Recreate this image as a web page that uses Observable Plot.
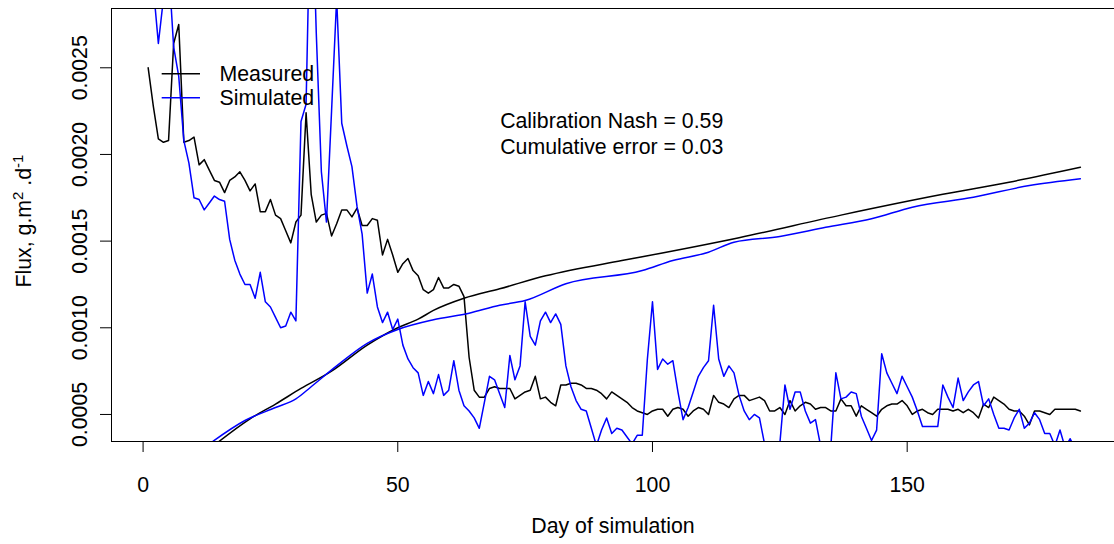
<!DOCTYPE html>
<html><head><meta charset="utf-8">
<script src="https://cdn.jsdelivr.net/npm/d3@7"></script>
<script src="https://cdn.jsdelivr.net/npm/@observablehq/plot@0.6"></script>
<style>body{margin:0;background:#fff} svg{display:block}</style>
</head><body><div id="chart"></div>
<script>
// ---------- data ----------
const measured = [0.00250,0.00228,0.00209,0.00207,0.00208,0.00264,0.00275,0.00207,0.00208,0.00210,
0.00194,0.00197,0.00191,0.00185,0.00184,0.00178,0.00185,0.00187,0.00190,0.00185,
0.00179,0.00183,0.00167,0.00167,0.00174,0.00165,0.00163,0.00156,0.00149,0.00161,
0.00165,0.00224,0.00177,0.00161,0.00165,0.00166,0.00153,0.00160,0.00168,0.00168,
0.00164,0.00169,0.00159,0.00159,0.00163,0.00162,0.00142,0.00151,0.00142,0.00132,
0.00137,0.00140,0.00133,0.00130,0.00122,0.00120,0.00122,0.00129,0.00123,0.00123,
0.00125,0.00124,0.00118,0.00083,0.00064,0.00060,0.00060,0.00065,0.00066,0.00065,
0.00065,0.00065,0.00059,0.00061,0.00063,0.00064,0.00072,0.00059,0.00060,0.00057,
0.00055,0.00067,0.00067,0.00068,0.00068,0.00067,0.00065,0.00065,0.00064,0.00062,
0.00059,0.00063,0.00061,0.00059,0.00057,0.00054,0.00052,0.00051,0.00050,0.00052,
0.00053,0.00053,0.00049,0.00053,0.00054,0.00053,0.00049,0.00052,0.00054,0.00053,
0.00050,0.00061,0.00057,0.00056,0.00054,0.00059,0.00061,0.00061,0.00058,0.00059,
0.00060,0.00058,0.00052,0.00052,0.00054,0.00050,0.00058,0.00052,0.00055,0.00057,
0.00056,0.00053,0.00054,0.00054,0.00052,0.00052,0.00059,0.00055,0.00055,0.00049,
0.00055,0.00053,0.00051,0.00049,0.00053,0.00055,0.00056,0.00056,0.00058,0.00055,
0.00050,0.00052,0.00053,0.00051,0.00050,0.00053,0.00053,0.00053,0.00052,0.00053,
0.00051,0.00053,0.00051,0.00048,0.00056,0.00054,0.00060,0.00058,0.00056,0.00053,
0.00052,0.00052,0.00049,0.00044,0.00052,0.00052,0.00051,0.00050,0.00053,0.00053,
0.00053,0.00053,0.00053,0.00052];

const simulated = [0.00320,0.00297,0.00264,0.00290,0.00310,0.00262,0.00245,0.00208,0.00195,0.00175,
0.00174,0.00168,0.00172,0.00176,0.00174,0.00173,0.00151,0.00139,0.00131,0.00125,
0.00125,0.00117,0.00132,0.00115,0.00112,0.00106,0.00100,0.00101,0.00109,0.00104,
0.00219,0.00229,0.00370,0.00270,0.00190,0.00161,0.00225,0.00290,0.00218,0.00205,
0.00193,0.00170,0.00154,0.00120,0.00131,0.00112,0.00103,0.00109,0.00099,0.00105,
0.00090,0.00082,0.00077,0.00074,0.00061,0.00069,0.00062,0.00073,0.00061,0.00064,
0.00081,0.00064,0.00055,0.00052,0.00048,0.00042,0.00057,0.00072,0.00070,0.00062,
0.00054,0.00084,0.00070,0.00078,0.00115,0.00095,0.00090,0.00104,0.00109,0.00103,
0.00108,0.00102,0.00078,0.00066,0.00058,0.00053,0.00052,0.00042,0.00032,0.00041,
0.00048,0.00039,0.00042,0.00041,0.00037,0.00033,0.00038,0.00038,0.00082,0.00115,
0.00076,0.00082,0.00079,0.00081,0.00063,0.00047,0.00054,0.00063,0.00072,0.00077,
0.00081,0.00113,0.00082,0.00072,0.00078,0.00074,0.00061,0.00052,0.00047,0.00050,
0.00048,0.00033,0.00030,0.00030,0.00033,0.00067,0.00053,0.00063,0.00063,0.00052,
0.00045,0.00047,0.00032,0.00030,0.00031,0.00074,0.00059,0.00060,0.00063,0.00062,
0.00049,0.00042,0.00035,0.00041,0.00085,0.00074,0.00068,0.00062,0.00072,0.00066,
0.00060,0.00052,0.00043,0.00043,0.00043,0.00043,0.00067,0.00060,0.00054,0.00071,
0.00058,0.00063,0.00067,0.00069,0.00055,0.00059,0.00050,0.00042,0.00042,0.00041,
0.00048,0.00053,0.00042,0.00045,0.00051,0.00047,0.00039,0.00039,0.00032,0.00041,
0.00031,0.00036,0.00030,0.00030];

const cumMeasuredDays = [13, 21, 26, 31, 37, 44, 50, 54, 57, 63, 70, 79, 94, 98, 117, 137, 157, 170, 184];
const cumMeasuredVals = [0.00030, 0.000475, 0.00056, 0.00065, 0.00075, 0.00090, 0.00100, 0.00105, 0.00110, 0.00117, 0.001225, 0.00130, 0.001388, 0.00141, 0.00152, 0.00165, 0.00177, 0.00184, 0.001926];

const cumSimulatedDays = [13, 20, 26, 30, 33, 38, 44, 50, 57, 64, 70, 75, 83, 98, 104, 111, 116, 125, 134, 143, 151, 163, 174, 184];
const cumSimulatedVals = [0.00033, 0.000465, 0.00054, 0.00059, 0.00066, 0.00078, 0.00091, 0.00099, 0.001046, 0.001084, 0.00113, 0.001157, 0.001254, 0.00133, 0.001388, 0.001436, 0.001494, 0.001527, 0.00158, 0.001629, 0.001696, 0.001753, 0.001821, 0.00186];

const xTicks = [0, 50, 100, 150];
const yTicks = [0.0005, 0.0010, 0.0015, 0.0020, 0.0025];
const legendLabels = ["Measured", "Simulated"];
const legendColors = ["#000000", "#0000ff"];
const annotationLines = ["Calibration Nash = 0.59", "Cumulative error = 0.03"];
const xTitle = "Day of simulation";
const yTitle = "Flux, g.m2 .d-1";

// ---------- build tables ----------
const measuredData = measured.map((v, i) => ({day: i + 1, value: v}));
const simulatedData = simulated.map((v, i) => ({day: i + 1, value: v}));
const cumMeasured = cumMeasuredDays.map((d, i) => ({day: d, value: cumMeasuredVals[i]}));
const cumSimulated = cumSimulatedDays.map((d, i) => ({day: d, value: cumSimulatedVals[i]}));

const xDomain = [-6.2, 190.7];
const yDomain = [0.000344, 0.002842];
const fs = 21.3;
const lw = 1.5;
const legendY = [0.002465, 0.002327];

const plot = Plot.plot({
  width: 1114,
  height: 544,
  marginLeft: 111,
  marginRight: 0,
  marginTop: 8,
  marginBottom: 103,
  x: {domain: xDomain},
  y: {domain: yDomain},
  color: {type: "identity"},
  style: {fontFamily: "'Liberation Sans', Arial, Helvetica, sans-serif", fontSize: fs + "px", color: "#000", background: "#fff"},
  marks: [
    Plot.line(measuredData, {x: "day", y: "value", stroke: legendColors[0], strokeWidth: lw, clip: true}),
    Plot.line(cumMeasured, {x: "day", y: "value", stroke: legendColors[0], strokeWidth: lw, clip: true, curve: "monotone-x"}),
    Plot.line(simulatedData, {x: "day", y: "value", stroke: legendColors[1], strokeWidth: lw, clip: true}),
    Plot.line(cumSimulated, {x: "day", y: "value", stroke: legendColors[1], strokeWidth: lw, clip: true, curve: "monotone-x"}),
    // plot box
    Plot.ruleX([xDomain[0]], {stroke: "#000", strokeWidth: 1}),
    Plot.ruleY([yDomain[0], yDomain[1]], {stroke: "#000", strokeWidth: 1}),
    // axes
    Plot.axisX({ticks: xTicks, tickSize: 11, tickPadding: 24, fontSize: fs, label: null}),
    Plot.axisY({ticks: yTicks, tickSize: 11, tickFormat: () => "", label: null}),
    Plot.text(yTicks, {y: d => d, text: d => d.toFixed(4), frameAnchor: "left", dx: -25, rotate: -90, textAnchor: "middle", lineAnchor: "bottom", fontSize: fs}),
    Plot.text([xTitle], {frameAnchor: "bottom", dy: 85, lineAnchor: "middle", textAnchor: "middle", fontSize: fs}),
    Plot.text([yTitle], {frameAnchor: "left", dx: -81, dy: -4, rotate: -90, textAnchor: "middle", lineAnchor: "bottom", fontSize: fs}),
    // annotation
    Plot.text([annotationLines.join("\n")], {x: 92, y: 0.002124, textAnchor: "middle", lineAnchor: "middle", lineHeight: 1.18, fontSize: fs}),
    // legend
    Plot.ruleY(legendLabels, {y: (d, i) => legendY[i], x1: 3.75, x2: 11.27, stroke: (d, i) => legendColors[i], strokeWidth: lw}),
    Plot.text(legendLabels, {x: 15.0, y: (d, i) => legendY[i], text: d => d, textAnchor: "start", lineAnchor: "middle", fontSize: fs})
  ]
});

// superscripts in the y-axis title
for (const t of plot.querySelectorAll("text")) {
  if (t.textContent === yTitle) {
    t.innerHTML = 'Flux, g.m<tspan dy="-8" font-size="15">2</tspan><tspan dy="8"> .d</tspan><tspan dy="-8" font-size="15">-1</tspan>';
  }
}
document.getElementById("chart").appendChild(plot);
</script>
</body></html>
